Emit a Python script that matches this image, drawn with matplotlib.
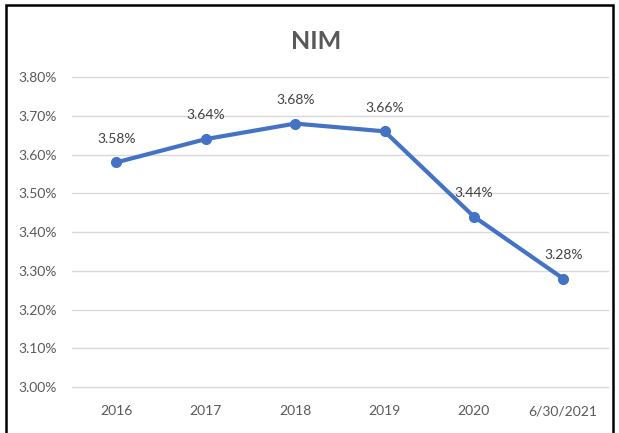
import matplotlib.pyplot as plt
from matplotlib.patches import Rectangle
from matplotlib.ticker import FuncFormatter

periods = ["2016", "2017", "2018", "2019", "2020", "6/30/2021"]
nim = [3.58, 3.64, 3.68, 3.66, 3.44, 3.28]
labels = ["3.58%", "3.64%", "3.68%", "3.66%", "3.44%", "3.28%"]

plt.rcParams['font.family'] = ['Lato', 'DejaVu Sans']

fig = plt.figure(figsize=(6.19, 4.33), dpi=100)
ax = fig.add_axes([0.116, 0.106, 0.866, 0.716])

x = list(range(len(periods)))
ax.plot(x, nim, color="#4472C4", linewidth=3, marker="o", markersize=7,
        solid_capstyle="round")
for xi, yi, lab in zip(x, nim, labels):
    ax.annotate(lab, (xi, yi), xytext=(0, 17), textcoords="offset points",
                ha="center", va="center", fontsize=10, color="#404040")

ax.set_xlim(-0.5, len(periods) - 0.5)
ax.set_ylim(3.0, 3.8)
ax.set_yticks([3.0 + 0.1 * i for i in range(9)])
ax.yaxis.set_major_formatter(FuncFormatter(lambda v, p: "%.2f%%" % v))
ax.set_xticks(x)
ax.set_xticklabels(periods)
ax.tick_params(length=0, labelsize=10, labelcolor="#595959")
ax.tick_params(axis="y", pad=11)
ax.tick_params(axis="x", pad=13)
ax.grid(axis="y", color="#D9D9D9", linewidth=1)
for gl in ax.get_ygridlines():
    gl.set_clip_on(False)
ax.set_axisbelow(True)
for s in ax.spines.values():
    s.set_visible(False)

fig.text(0.51, 0.905, "NIM", ha="center", va="center", fontsize=18,
         fontweight="bold", color="#595959")

fig.patches.append(Rectangle((6 / 619, -0.1), 607 / 619, 1.1 - 5 / 433,
                             transform=fig.transFigure, fill=False,
                             edgecolor="black", linewidth=1.8))

fig.savefig("out.png", dpi=100)
